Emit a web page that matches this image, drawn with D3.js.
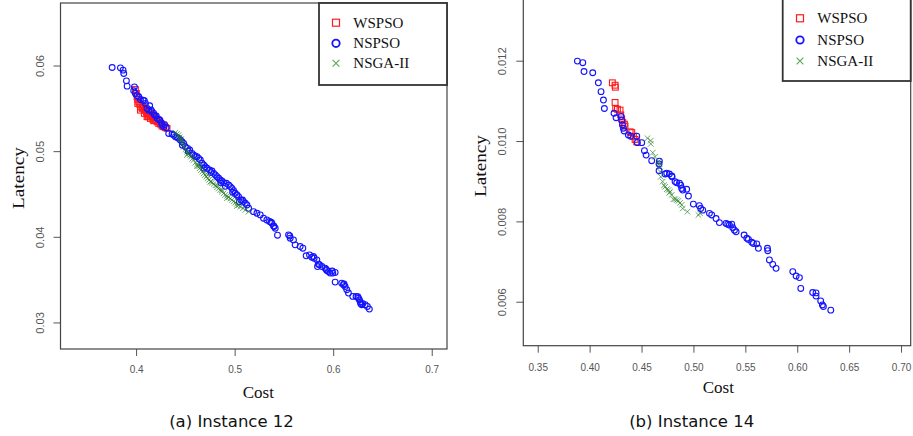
<!DOCTYPE html>
<html>
<head>
<meta charset="utf-8">
<script src="https://cdn.jsdelivr.net/npm/d3@7/dist/d3.min.js"></script>
<style>
  html, body { margin: 0; padding: 0; background: #fff; overflow: hidden; }
  svg { display: block; }
</style>
</head>
<body>
<svg id="chart" width="913" height="436"></svg>
<script>
// ---------- Instance 12: [cost, latency] ----------
const wspso12 = [
  [0.3993,0.05720],[0.4003,0.05674],[0.4010,0.05635],[0.4017,0.05604],[0.4027,0.05577],[0.4037,0.05549],
  [0.4044,0.05518],[0.4061,0.05499],[0.4071,0.05510],[0.4084,0.05479],[0.4095,0.05487],[0.4105,0.05460],
  [0.4111,0.05441],[0.4118,0.05421],[0.4128,0.05402],[0.4138,0.05433],[0.4145,0.05382],[0.4162,0.05402],
  [0.4172,0.05371],[0.4179,0.05355],[0.4196,0.05363],[0.4213,0.05343],[0.4230,0.05324],[0.4247,0.05316],
  [0.4263,0.05293],[0.4280,0.05285],[0.4297,0.05277],[0.4314,0.05266],[0.4017,0.05557],[0.4044,0.05479],
  [0.4084,0.05441],[0.4111,0.05402],[0.4145,0.05421],[0.4186,0.05394],[0.4240,0.05343],[0.4274,0.05305],
  [0.4128,0.05472],[0.4061,0.05538]
];
const nspso12 = [
  [0.3757,0.05977],[0.3841,0.05973],[0.3868,0.05946],[0.3875,0.05907],[0.3902,0.05821],[0.3909,0.05759],
  [0.3983,0.05751],[0.3976,0.05705],[0.3993,0.05674],[0.4010,0.05646],[0.4027,0.05635],[0.4044,0.05604],
  [0.4071,0.05596],[0.4084,0.05588],[0.4095,0.05557],[0.4111,0.05499],[0.4128,0.05479],[0.4162,0.05460],
  [0.4179,0.05441],[0.4186,0.05421],[0.4213,0.05382],[0.4240,0.05363],[0.4257,0.05332],[0.4263,0.05305],
  [0.4280,0.05285],[0.4307,0.05274],[0.4331,0.05207],[0.4365,0.05200],[0.4382,0.05188],[0.4399,0.05169],
  [0.4415,0.05161],[0.4432,0.05149],[0.4449,0.05130],[0.4466,0.05110],[0.4483,0.05091],[0.4500,0.05052],
  [0.4523,0.05033],[0.4544,0.05013],[0.4567,0.04974],[0.4584,0.04955],[0.4618,0.04936],[0.4635,0.04916],
  [0.4652,0.04897],[0.4669,0.04858],[0.4686,0.04838],[0.4702,0.04819],[0.4719,0.04800],[0.4746,0.04780],
  [0.4770,0.04768],[0.4787,0.04741],[0.4804,0.04722],[0.4821,0.04702],[0.4838,0.04683],[0.4854,0.04664],
  [0.4871,0.04652],[0.4888,0.04632],[0.4915,0.04625],[0.4939,0.04605],[0.4956,0.04586],[0.4973,0.04566],
  [0.4990,0.04539],[0.5006,0.04508],[0.5023,0.04489],[0.5040,0.04469],[0.5064,0.04430],[0.5091,0.04411],
  [0.5108,0.04392],[0.5125,0.04372],[0.5142,0.04333],[0.5192,0.04294],[0.5226,0.04275],[0.5260,0.04256],
  [0.5293,0.04217],[0.5327,0.04197],[0.5354,0.04178],[0.5378,0.04158],[0.5395,0.04127],[0.5412,0.04100],
  [0.5435,0.04019],[0.5547,0.04023],[0.5564,0.03984],[0.5597,0.03964],[0.5614,0.03906],[0.5665,0.03887],
  [0.5692,0.03867],[0.5726,0.03778],[0.5760,0.03789],[0.5783,0.03762],[0.5807,0.03750],[0.5834,0.03731],
  [0.5841,0.03653],[0.5861,0.03673],[0.5885,0.03653],[0.5918,0.03634],[0.5935,0.03607],[0.5952,0.03595],
  [0.5969,0.03576],[0.5996,0.03576],[0.6020,0.03584],[0.6020,0.03471],[0.6087,0.03459],[0.6104,0.03440],
  [0.6121,0.03420],[0.6138,0.03382],[0.6155,0.03343],[0.6199,0.03304],[0.6232,0.03304],[0.6256,0.03284],
  [0.6266,0.03265],[0.6280,0.03218],[0.6290,0.03207],[0.6324,0.03207],[0.6347,0.03187],[0.6367,0.03156],
  [0.4138,0.05530],[0.4152,0.05480],[0.4205,0.05410],[0.4232,0.05370],[0.4290,0.05310],[0.4470,0.05070],
  [0.4530,0.05000],[0.4600,0.04940],[0.4690,0.04800],[0.4760,0.04750],[0.4860,0.04630],[0.4905,0.04590],
  [0.4980,0.04520],[0.5020,0.04490],[0.5048,0.04410],[0.5080,0.04430],[0.5370,0.04170],[0.5400,0.04120],
  [0.5560,0.04010],[0.5800,0.03770],[0.5850,0.03680],[0.5930,0.03620],[0.5990,0.03600],[0.6110,0.03450],
  [0.6250,0.03300],[0.6275,0.03240],[0.6300,0.03220]
];
const nsga12 = [
  [0.4399,0.05215],[0.4415,0.05200],[0.4432,0.05188],[0.4442,0.05161],[0.4456,0.05138],[0.4466,0.05110],
  [0.4476,0.05083],[0.4483,0.05052],[0.4500,0.05021],[0.4517,0.04994],[0.4527,0.04974],[0.4544,0.04955],
  [0.4557,0.04936],[0.4571,0.04912],[0.4584,0.04897],[0.4601,0.04866],[0.4618,0.04846],[0.4632,0.04827],
  [0.4645,0.04800],[0.4659,0.04780],[0.4672,0.04761],[0.4686,0.04741],[0.4699,0.04722],[0.4713,0.04702],
  [0.4726,0.04683],[0.4740,0.04664],[0.4753,0.04644],[0.4770,0.04632],[0.4787,0.04617],[0.4804,0.04601],
  [0.4821,0.04578],[0.4838,0.04563],[0.4854,0.04547],[0.4871,0.04528],[0.4888,0.04508],[0.4905,0.04489],
  [0.4922,0.04477],[0.4939,0.04462],[0.4956,0.04446],[0.4973,0.04430],[0.4990,0.04415],[0.5006,0.04399],
  [0.5023,0.04384],[0.5040,0.04368],[0.5057,0.04353],[0.5084,0.04333],[0.5108,0.04314],[0.5142,0.04294],
  [0.4517,0.04955],[0.4618,0.04827],[0.4726,0.04722],[0.4821,0.04601],[0.4922,0.04450],[0.5023,0.04360],
  [0.4449,0.05138],[0.4645,0.04827],[0.4760,0.04644],[0.4871,0.04547]
];

// ---------- Instance 14: [cost, latency] ----------
const wspso14 = [
  [0.4219,0.01145],[0.4245,0.01139],[0.4248,0.01134],[0.4245,0.01096],[0.4251,0.01081],[0.4268,0.01079],
  [0.4293,0.01077],[0.4300,0.01065],[0.4309,0.01055],[0.4319,0.01046],[0.4335,0.01042],[0.4341,0.01037],
  [0.4390,0.01023],[0.4406,0.01021],[0.4422,0.01012],[0.4438,0.01004],[0.4454,0.00998]
];
const nspso14 = [
  [0.3882,0.01199],[0.3934,0.01195],[0.3946,0.01173],[0.4030,0.01170],[0.4084,0.01145],[0.4110,0.01123],
  [0.4133,0.01102],[0.4142,0.01081],[0.4235,0.01069],[0.4255,0.01058],[0.4303,0.01061],[0.4309,0.01052],
  [0.4316,0.01040],[0.4325,0.01032],[0.4332,0.01025],[0.4373,0.01015],[0.4396,0.01012],[0.4454,0.01012],
  [0.4460,0.00996],[0.4502,0.00996],[0.4528,0.00976],[0.4544,0.00965],[0.4598,0.00951],[0.4672,0.00950],
  [0.4669,0.00943],[0.4669,0.00926],[0.4727,0.00918],[0.4743,0.00920],[0.4768,0.00918],[0.4791,0.00913],
  [0.4794,0.00911],[0.4823,0.00899],[0.4839,0.00896],[0.4865,0.00895],[0.4878,0.00890],[0.4887,0.00882],
  [0.4897,0.00878],[0.4935,0.00880],[0.4952,0.00863],[0.4999,0.00843],[0.5057,0.00839],[0.5070,0.00832],
  [0.5090,0.00828],[0.5154,0.00820],[0.5176,0.00816],[0.5218,0.00807],[0.5250,0.00797],[0.5314,0.00795],
  [0.5330,0.00793],[0.5346,0.00791],[0.5369,0.00793],[0.5379,0.00784],[0.5395,0.00778],[0.5411,0.00774],
  [0.5488,0.00766],[0.5514,0.00758],[0.5530,0.00755],[0.5562,0.00748],[0.5578,0.00745],[0.5610,0.00744],
  [0.5626,0.00733],[0.5713,0.00733],[0.5716,0.00727],[0.5732,0.00704],[0.5764,0.00693],[0.5796,0.00683],
  [0.5957,0.00675],[0.5989,0.00664],[0.6021,0.00660],[0.6034,0.00633],[0.6149,0.00623],[0.6181,0.00622],
  [0.6181,0.00614],[0.6226,0.00602],[0.6242,0.00592],[0.6252,0.00588],[0.6323,0.00579]
];
const nsga14 = [
  [0.4557,0.01007],[0.4589,0.01001],[0.4589,0.00993],[0.4608,0.00971],[0.4630,0.00961],[0.4663,0.00949],
  [0.4672,0.00938],[0.4679,0.00924],[0.4685,0.00911],[0.4704,0.00899],[0.4717,0.00890],[0.4727,0.00886],
  [0.4743,0.00880],[0.4759,0.00878],[0.4775,0.00874],[0.4791,0.00866],[0.4807,0.00855],[0.4823,0.00855],
  [0.4855,0.00851],[0.4871,0.00846],[0.4887,0.00841],[0.4897,0.00832],[0.4942,0.00824],[0.5048,0.00816],
  [0.5064,0.00820],[0.4672,0.00944],[0.4768,0.00871],[0.4839,0.00853]
];

// ---------- Axes ----------
const costTicks12 = [0.4, 0.5, 0.6, 0.7];
const latencyTicks12 = [0.03, 0.04, 0.05, 0.06];
const costTicks14 = [0.35, 0.40, 0.45, 0.50, 0.55, 0.60, 0.65, 0.70];
const latencyTicks14 = [0.006, 0.008, 0.010, 0.012];

const seriesNames = ["WSPSO", "NSPSO", "NSGA-II"];
const captions = ["(a) Instance 12", "(b) Instance 14"];

// ---------- Drawing ----------
const svg = d3.select("#chart");
const STRETCH = 1.12;
const C_RED = "#ff1a1a", C_BLUE = "#1414ff", C_GREEN = "#1f7a1f";

const panels = [
  {
    frame: { left: 60.5, right: 447, top: 3, bottom: 349 },
    xDom: [0.3233, 0.7155], yDom: [0.0269, 0.0673],
    xTicks: costTicks12, yTicks: latencyTicks12, xFmt: d3.format(".1f"), yFmt: d3.format(".2f"),
    xLabOff: 20, yLabOff: -20.3,
    legend: { left: 319, bottom: 85, mx: 336, my: [22.7, 43.3, 63.3], tx: 353.3 },
    latency: { x: 18.3, y: 178 }, cost: { x: 258.3, y: 392 }, caption: { x: 231.5, y: 421 },
    data: [wspso12, nspso12, nsga12], text: captions[0]
  },
  {
    frame: { left: 523.3, right: 910.7, top: -1, bottom: 345.7 },
    xDom: [0.3361, 0.7093], yDom: [0.004905, 0.013536],
    xTicks: costTicks14, yTicks: latencyTicks14, xFmt: d3.format(".2f"), yFmt: d3.format(".3f"),
    xLabOff: 21, yLabOff: -21.3,
    legend: { left: 782.7, bottom: 81, mx: 800, my: [18.3, 40, 61], tx: 817.3 },
    latency: { x: 480.8, y: 166 }, cost: { x: 718.3, y: 387.5 }, caption: { x: 691.7, y: 421 },
    data: [wspso14, nspso14, nsga14], text: captions[1]
  }
];

function squareAt(g, x, y, s, color, w) {
  g.append("rect").attr("x", x - s / 2).attr("y", y - s / 2).attr("width", s).attr("height", s)
    .attr("fill", "none").attr("stroke", color).attr("stroke-width", w);
}
function crossAt(g, x, y, s, color, w, op) {
  g.append("path").attr("d", `M${x - s},${y - s}L${x + s},${y + s}M${x - s},${y + s}L${x + s},${y - s}`)
    .attr("fill", "none").attr("stroke", color).attr("stroke-width", w).attr("stroke-opacity", op);
}

panels.forEach(p => {
  const f = p.frame;
  const x = d3.scaleLinear().domain(p.xDom).range([f.left, f.right]);
  const y = d3.scaleLinear().domain(p.yDom).range([f.bottom, f.top]);
  const g = svg.append("g");

  // x axis
  const gx = g.append("g").attr("transform", `translate(0,${f.bottom})`)
    .call(d3.axisBottom(x).tickValues(p.xTicks).tickFormat(p.xFmt).tickSizeInner(7).tickSizeOuter(0));
  gx.select(".domain").remove();
  gx.selectAll(".tick line").attr("stroke", "#555").attr("stroke-width", 1);
  gx.selectAll(".tick text")
    .attr("y", null).attr("dy", null)
    .attr("dominant-baseline", "central")
    .attr("transform", `translate(0,${p.xLabOff}) scale(1,${STRETCH})`)
    .attr("font-family", "Liberation Sans, Arial, sans-serif").attr("font-size", 10).attr("fill", "#555");

  // y axis
  const gy = g.append("g").attr("transform", `translate(${f.left},0)`)
    .call(d3.axisLeft(y).tickValues(p.yTicks).tickFormat(p.yFmt).tickSizeInner(7).tickSizeOuter(0));
  gy.select(".domain").remove();
  gy.selectAll(".tick line").attr("stroke", "#555").attr("stroke-width", 1);
  gy.selectAll(".tick text")
    .attr("x", null).attr("dy", null)
    .attr("text-anchor", "middle").attr("dominant-baseline", "central")
    .attr("transform", `translate(${p.yLabOff},0) scale(1,${STRETCH}) rotate(-90)`)
    .attr("font-family", "Liberation Sans, Arial, sans-serif").attr("font-size", 10).attr("fill", "#555");

  // points
  const pts = g.append("g");
  p.data[0].forEach(d => squareAt(pts, x(d[0]), y(d[1]), 5.8, C_RED, 1.1));
  p.data[1].forEach(d => pts.append("circle").attr("cx", x(d[0])).attr("cy", y(d[1])).attr("r", 2.9)
    .attr("fill", "none").attr("stroke", C_BLUE).attr("stroke-width", 1.1));
  p.data[2].forEach(d => crossAt(pts, x(d[0]), y(d[1]), 2.8, C_GREEN, 1, 0.65));

  // frame
  g.append("rect").attr("x", f.left).attr("y", f.top).attr("width", f.right - f.left).attr("height", f.bottom - f.top)
    .attr("fill", "none").attr("stroke", "#444").attr("stroke-width", 1.2);

  // legend
  const L = p.legend;
  g.append("rect").attr("x", L.left).attr("y", f.top).attr("width", f.right - L.left).attr("height", L.bottom - f.top)
    .attr("fill", "#fff").attr("stroke", "#333").attr("stroke-width", 1.8);
  squareAt(g, L.mx, L.my[0], 7, C_RED, 1.2);
  g.append("circle").attr("cx", L.mx).attr("cy", L.my[1]).attr("r", 3.7)
    .attr("fill", "none").attr("stroke", C_BLUE).attr("stroke-width", 1.8);
  crossAt(g, L.mx, L.my[2], 3.4, "#3a9a3a", 1.1, 0.85);
  seriesNames.forEach((name, i) => {
    g.append("text").attr("x", L.tx).attr("y", L.my[i]).attr("dominant-baseline", "central")
      .attr("font-family", "Liberation Serif, Times New Roman, serif").attr("font-size", 15).attr("fill", "#111")
      .text(name);
  });

  // titles
  g.append("text").attr("text-anchor", "middle").attr("dominant-baseline", "central")
    .attr("transform", `translate(${p.latency.x},${p.latency.y}) rotate(-90) scale(1.13,1)`)
    .attr("font-family", "Liberation Serif, Times New Roman, serif").attr("font-size", 17).attr("fill", "#111")
    .text("Latency");
  g.append("text").attr("x", p.cost.x).attr("y", p.cost.y).attr("text-anchor", "middle").attr("dominant-baseline", "central")
    .attr("font-family", "Liberation Serif, Times New Roman, serif").attr("font-size", 17).attr("fill", "#111")
    .text("Cost");
  g.append("text").attr("x", p.caption.x).attr("y", p.caption.y).attr("text-anchor", "middle").attr("dominant-baseline", "central")
    .attr("font-family", "DejaVu Sans, sans-serif").attr("font-size", 16.5).attr("fill", "#111")
    .text(p.text);
});
</script>
</body>
</html>
